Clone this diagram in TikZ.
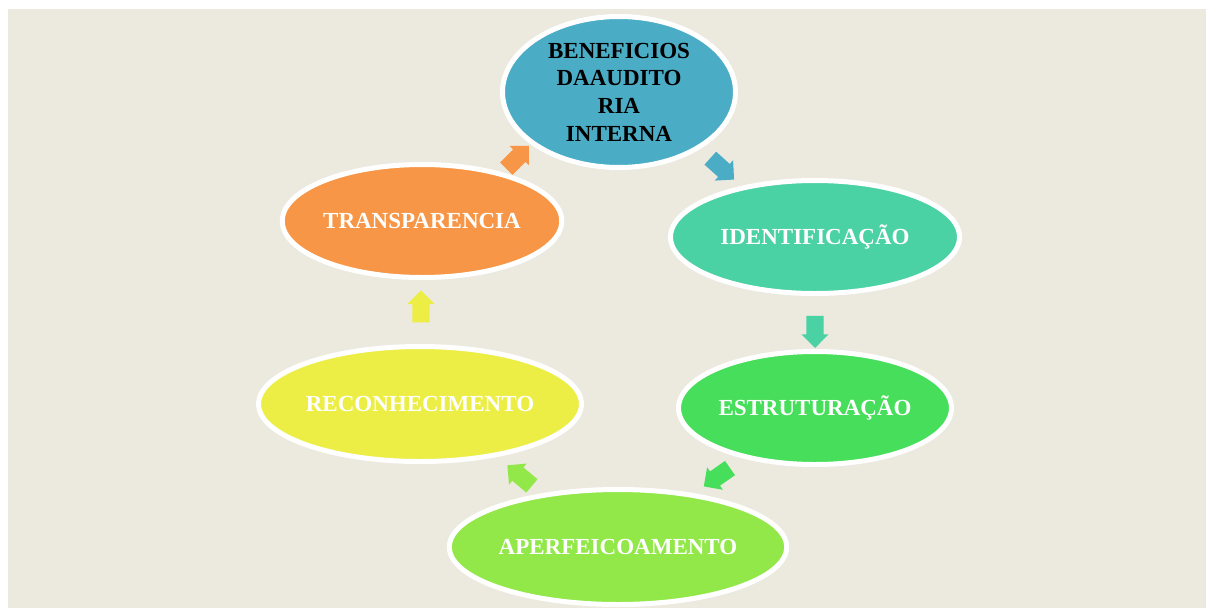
\documentclass[tikz,border=0pt]{standalone}
\usepackage{fontspec}
\setmainfont{Liberation Serif}
\usepackage{tikz}
\usetikzlibrary{shapes.geometric,shapes.arrows,calc}
\definecolor{fundo}{RGB}{236,233,223}
\definecolor{azul}{RGB}{75,172,198}
\definecolor{turquesa}{RGB}{74,209,164}
\definecolor{verde}{RGB}{70,222,90}
\definecolor{verdeclaro}{RGB}{145,232,72}
\definecolor{amarelo}{RGB}{236,238,70}
\definecolor{laranja}{RGB}{247,150,70}
\tikzstyle{etapa}=[ellipse, draw=white, line width=5pt, inner sep=0pt, text=white, align=center, font=\bfseries\fontsize{23}{27.7}\selectfont]
\tikzstyle{seta}=[single arrow, inner xsep=0pt, inner ysep=8.5pt, minimum height=32pt, single arrow head extend=5pt, single arrow head indent=0pt]
\newcommand{\etapa}[6]{
	\node[etapa, fill=#3, minimum width=#4, minimum height=#5] (#1) at (#2) {#6};}
\newcommand{\seta}[4]{
	\node[seta, fill=#4, rotate=#3] (#1) at ($(#2)$) {};}

\begin{document}
\begin{tikzpicture}[x=1pt, y=-1pt]
\useasboundingbox (0,0) rectangle (1206,608);
\fill[fundo] (8,9) rectangle (1206,608);
\etapa{beneficios}{619,92}{azul}{233pt}{151pt}{\textcolor{black}{BENEFICIOS}\\\textcolor{black}{DAAUDITO}\\\textcolor{black}{RIA}\\\textcolor{black}{INTERNA}}
\etapa{identificacao}{815,237}{turquesa}{289pt}{113pt}{IDENTIFICAÇÃO}
\etapa{estruturacao}{815,408}{verde}{271pt}{113pt}{ESTRUTURAÇÃO}
\etapa{aperfeicoamento}{618,547}{verdeclaro}{325pt}{115pt}{APERFEICOAMENTO}
\etapa{reconhecimento}{420,404}{amarelo}{307pt}{115pt}{RECONHECIMENTO}
\etapa{transparencia}{422,221}{laranja}{279pt}{113pt}{TRANSPARENCIA}
\seta{s1}{beneficios)!0.51!(identificacao}{-42}{azul}
\seta{s2}{identificacao)!0.53!(estruturacao}{-90}{turquesa}
\seta{s3}{estruturacao)!0.48!(aperfeicoamento}{215}{verde}
\seta{s4}{aperfeicoamento)!0.48!(reconhecimento}{140}{verdeclaro}
\seta{s5}{reconhecimento)!0.51!(transparencia}{90}{amarelo}
\seta{s6}{transparencia)!0.47!(beneficios}{45}{laranja}
\end{tikzpicture}
\end{document}
